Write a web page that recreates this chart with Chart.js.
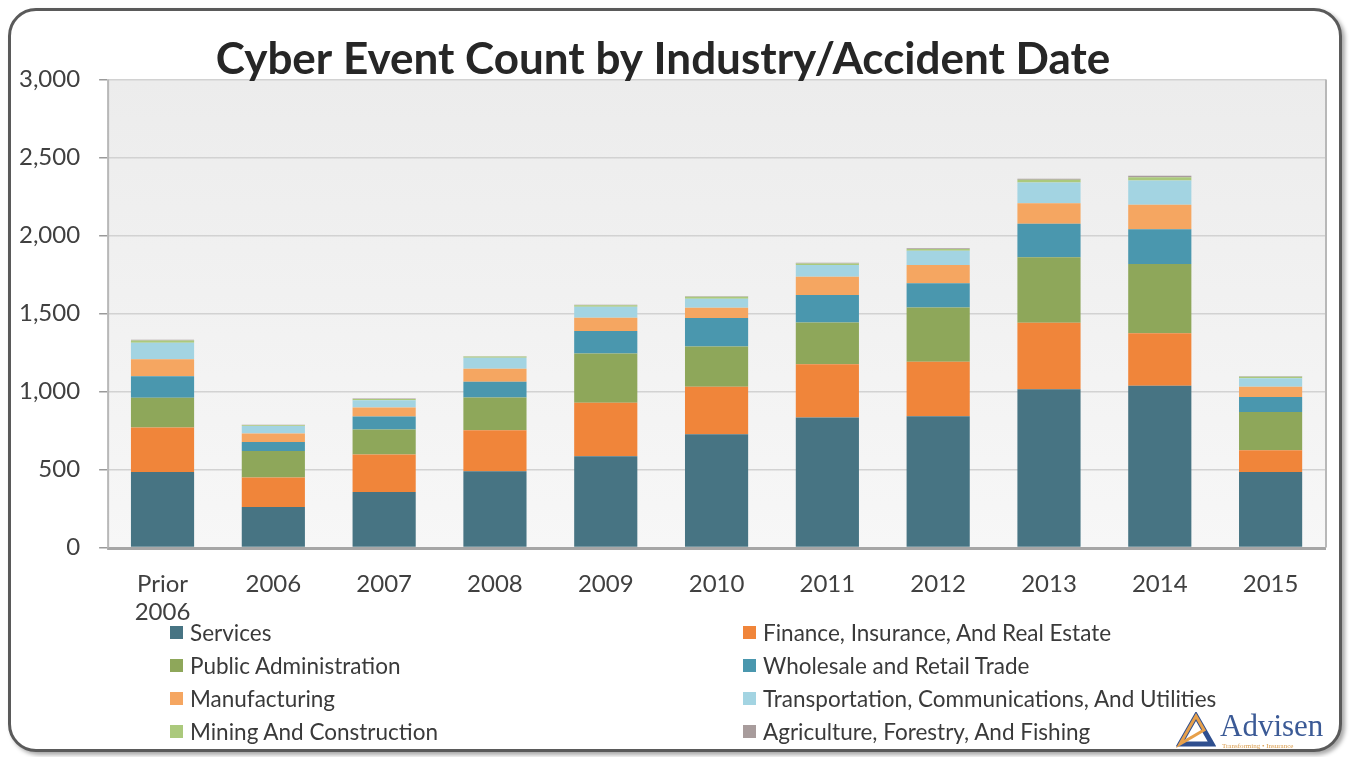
<!DOCTYPE html>
<html>
<head>
<meta charset="utf-8">
<script src="https://cdn.jsdelivr.net/npm/chart.js@4.4.1/dist/chart.umd.min.js"></script>
<style>
  html, body { margin: 0; padding: 0; background: #ffffff; }
  #frame {
    position: absolute; left: 8px; top: 8px; width: 1328px; height: 738px;
    border: 3px solid #5a5a5a; border-radius: 28px;
    box-shadow: 3px 3px 4px rgba(0,0,0,0.35);
    background: #fff;
  }
  #wrap { position: absolute; left: 0; top: 0; width: 1351px; height: 757px; }
  #legend {
    position: absolute; left: 170px; top: 620px; width: 1100px;
    display: grid; grid-template-columns: 573px 520px; row-gap: 9px;
    font-family: Lato, "Open Sans", sans-serif; font-size: 22.5px; color: #3a3a3a;
  }
  #legend div { display: flex; align-items: center; height: 24px; white-space: nowrap; }
  #legend span.box { display: inline-block; width: 13px; height: 13px; margin-right: 7px; }
  #logo { position: absolute; left: 1176px; top: 708px; font-family: "Liberation Serif", serif; }
</style>
</head>
<body>
<div id="frame"></div>
<div id="wrap"><canvas id="c" width="1351" height="757"></canvas></div>
<div id="legend"></div>
<div id="logo">
  <svg width="40" height="36" style="position:absolute;left:0;top:4px">
    <polygon points="4,32 20,4 36,32" fill="none" stroke="#2f4f8f" stroke-width="5"/>
    <polygon points="4,32 20,4 28,18" fill="none" stroke="#e7a04a" stroke-width="3"/>
  </svg>
  <span style="position:absolute;left:44px;top:0;font-size:31px;color:#3b5a96;">Advisen</span>
  <span style="position:absolute;left:46px;top:34px;font-size:7px;color:#d99a48;white-space:nowrap;">Transforming &bull; Insurance</span>
</div>
<script>
var categories = [['Prior', '2006'], '2006', '2007', '2008', '2009', '2010', '2011', '2012', '2013', '2014', '2015'];
var services       = [484, 259, 355, 488, 584, 726, 833, 841, 1015, 1036, 484];
var finance        = [285, 189, 240, 263, 343, 304, 342, 349, 426, 337, 139];
var publicAdmin    = [190, 171, 161, 210, 317, 259, 268, 349, 420, 445, 246];
var wholesale      = [139, 57, 84, 101, 143, 182, 176, 155, 214, 222, 96];
var manufacturing  = [109, 54, 57, 83, 86, 66, 117, 117, 132, 157, 65];
var transportation = [105, 49, 47, 71, 70, 58, 75, 92, 133, 156, 54];
var mining         = [15, 5, 8, 8, 10, 12, 10, 10, 17, 20, 10];
var agriculture    = [5, 2, 3, 2, 3, 3, 5, 5, 7, 10, 4];
var yTicks = [0, 500, 1000, 1500, 2000, 2500, 3000];

var seriesNames = ['Services', 'Finance, Insurance, And Real Estate', 'Public Administration',
    'Wholesale and Retail Trade', 'Manufacturing', 'Transportation, Communications, And Utilities',
    'Mining And Construction', 'Agriculture, Forestry, And Fishing'];
var seriesData = [services, finance, publicAdmin, wholesale, manufacturing, transportation, mining, agriculture];
var seriesColors = ['#477483', '#f0853a', '#8ea75a', '#4a97ae', '#f5a661', '#a3d4e2', '#abc97c', '#a89c9c'];

var font = 'Lato, "Open Sans", sans-serif';

// plot area fill + axis shadow lines
var plotBg = {
    id: 'plotBg',
    beforeDraw: function(chart) {
        var a = chart.chartArea, ctx = chart.ctx;
        ctx.save();
        var g = ctx.createLinearGradient(0, a.top, 0, a.bottom);
        g.addColorStop(0, '#ececec');
        g.addColorStop(1, '#f7f7f7');
        ctx.fillStyle = g;
        ctx.fillRect(a.left, a.top, a.right - a.left, a.bottom - a.top);
        ctx.restore();
    },
    afterDatasetsDraw: function(chart) {
        var a = chart.chartArea, ctx = chart.ctx;
        ctx.save();
        ctx.strokeStyle = '#a6a6a6';
        ctx.lineWidth = 3;
        ctx.beginPath();
        ctx.moveTo(a.left, a.bottom + 1);
        ctx.lineTo(a.right, a.bottom + 1);
        ctx.stroke();
        ctx.strokeStyle = '#b8b8b8';
        ctx.lineWidth = 2;
        ctx.beginPath();
        ctx.moveTo(a.left + 1, a.top);
        ctx.lineTo(a.left + 1, a.bottom);
        ctx.moveTo(a.right, a.top);
        ctx.lineTo(a.right, a.bottom);
        ctx.stroke();
        ctx.restore();
    }
};

var datasets = [];
for (var i = 0; i < seriesNames.length; i++) {
    datasets.push({
        label: seriesNames[i],
        data: seriesData[i],
        backgroundColor: seriesColors[i],
        borderWidth: 0,
        barPercentage: 0.57,
        categoryPercentage: 1.0
    });
}

var chart = new Chart(document.getElementById('c'), {
    type: 'bar',
    data: { labels: categories, datasets: datasets },
    plugins: [plotBg],
    options: {
        responsive: false,
        animation: false,
        layout: { padding: { left: 0, right: 25, top: 40, bottom: 116 } },
        plugins: {
            legend: { display: false },
            tooltip: { enabled: false },
            title: {
                display: true,
                text: 'Cyber Event Count by Industry/Accident Date',
                color: '#262626',
                font: { family: font, size: 44, weight: 'bold', lineHeight: 0.9 },
                padding: { top: 0, bottom: 0 }
            }
        },
        scales: {
            x: {
                stacked: true,
                grid: { display: false },
                border: { display: false },
                ticks: {
                    color: '#404040',
                    font: { family: font, size: 24 },
                    padding: 14,
                    maxRotation: 0
                }
            },
            y: {
                stacked: true,
                min: 0,
                max: 3000,
                afterBuildTicks: function(axis) {
                    axis.ticks = yTicks.map(function(v) { return { value: v }; });
                },
                grid: { color: '#d2d2d2', lineWidth: 1.5, tickLength: 8, tickColor: '#9a9a9a' },
                border: { display: false },
                ticks: {
                    color: '#404040',
                    font: { family: font, size: 24 },
                    padding: 19,
                    callback: function(v) { return v.toLocaleString('en-US'); }
                }
            }
        }
    }
});

// legend in two columns, from the chart's own datasets
var lg = document.getElementById('legend');
chart.data.datasets.forEach(function(ds) {
    var d = document.createElement('div');
    d.innerHTML = '<span class="box" style="background:' + ds.backgroundColor + '"></span>' + ds.label;
    lg.appendChild(d);
});
</script>
</body>
</html>
